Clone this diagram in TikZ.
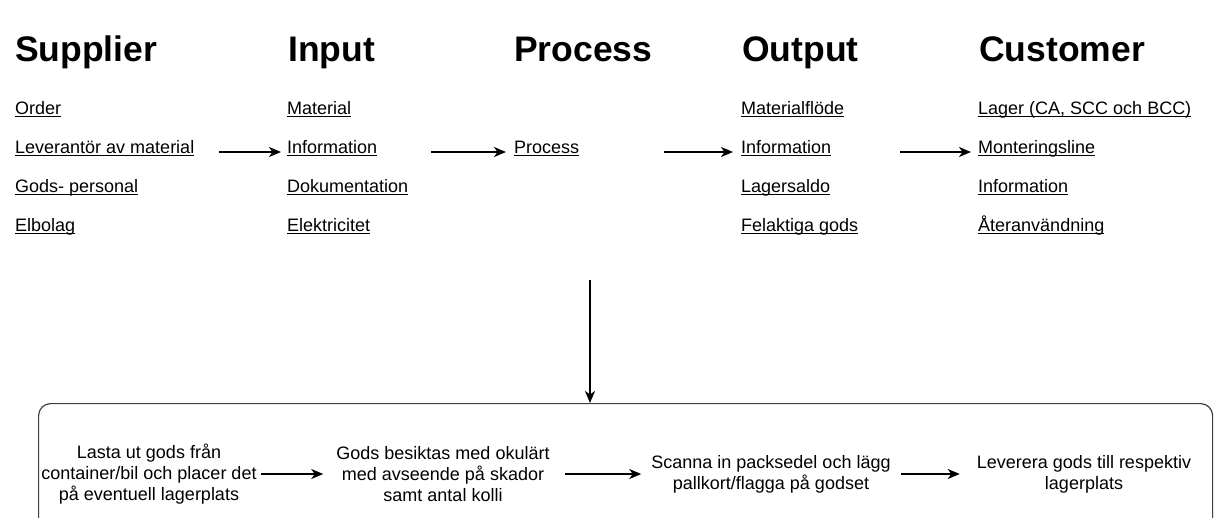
\documentclass[tikz,border=0pt]{standalone}
\usepackage{fontspec}
\setmainfont{Liberation Sans}
\usetikzlibrary{arrows.meta}
\newcommand\myul[1]{\setbox0\hbox{#1}\rlap{\usebox0}\rule[-3.4pt]{\wd0}{1.2pt}}
\tikzset{
  head/.style={inner sep=0pt, anchor=base west, font=\fontsize{35.5}{40}\selectfont\bfseries},
  item/.style={inner sep=0pt, anchor=base west, font=\fontsize{18}{21}\selectfont},
  btxt/.style={inner sep=0pt, align=center, font=\fontsize{18}{21}\selectfont},
  arr/.style={line width=1.8pt, -{Stealth[length=12pt,width=10pt,inset=3.5pt]}},
  barr/.style={line width=1.6pt, -{Stealth[length=12pt,width=10pt,inset=3.5pt]}},
  boxst/.style={draw=black!75, line width=1.2pt, rounded corners=12pt, inner sep=0pt}
}
\begin{document}
\begin{tikzpicture}[x=1pt,y=-1pt]
\useasboundingbox (0,0) rectangle (1215,517);
\clip (0,0) rectangle (1215,517);
% headings
\node[head] (hs) at (15,61) {Supplier};
\node[head] (hi) at (288,61) {Input};
\node[head] (hp) at (514,61) {Process};
\node[head] (ho) at (742,61) {Output};
\node[head] (hc) at (979,61) {Customer};
% supplier
\node[item] (s1) at (15,114) {\myul{Order}};
\node[item] (s2) at (15,153) {\myul{Leverantör av material}};
\node[item] (s3) at (15,192) {\myul{Gods- personal}};
\node[item] (s4) at (15,231) {\myul{Elbolag}};
% input
\node[item] (i1) at (287,114) {\myul{Material}};
\node[item] (i2) at (287,153) {\myul{Information}};
\node[item] (i3) at (287,192) {\myul{Dokumentation}};
\node[item] (i4) at (287,231) {\myul{Elektricitet}};
% process
\node[item] (p) at (514,153) {\myul{Process}};
% output
\node[item] (o1) at (741,114) {\myul{Materialflöde}};
\node[item] (o2) at (741,153) {\myul{Information}};
\node[item] (o3) at (741,192) {\myul{Lagersaldo}};
\node[item] (o4) at (741,231) {\myul{Felaktiga gods}};
% customer
\node[item] (c1) at (978,114) {\myul{Lager (CA, SCC och BCC)}};
\node[item] (c2) at (978,153) {\myul{Monteringsline}};
\node[item] (c3) at (978,192) {\myul{Information}};
\node[item] (c4) at (978,231) {\myul{Återanvändning}};
% top arrows
\draw[arr] ([xshift=25pt,yshift=1pt]s2.base east) -- ([xshift=-6pt,yshift=1pt]i2.base west);
\draw[arr] ([xshift=54pt,yshift=1pt]i2.base east) -- ([xshift=-8pt,yshift=1pt]p.base west);
\draw[arr] ([xshift=85pt,yshift=1pt]p.base east) -- ([xshift=-8pt,yshift=1pt]o2.base west);
\draw[arr] ([xshift=69pt,yshift=1pt]o2.base east) -- ([xshift=-7pt,yshift=1pt]c2.base west);
% bottom box
\node[boxst, anchor=north west, minimum width=1174pt, minimum height=130pt] (box) at (38,403) {};
\coordinate (vtop) at (590,280);
\draw[arr] (vtop) -- (vtop |- box.north);
% bottom texts
\node[btxt] (b1) at (149,474) {Lasta ut gods från\\container/bil och placer det\\på eventuell lagerplats};
\node[btxt] (b2) at (443,474) {Gods besiktas med okulärt\\med avseende på skador\\samt antal kolli};
\node[btxt] (b3) at (771,474) {Scanna in packsedel och lägg\\pallkort/flagga på godset};
\node[btxt] (b4) at (1084,474) {Leverera gods till respektiv\\lagerplats};
\draw[barr] ([xshift=4pt]b1.east) -- ([xshift=-13pt]b2.west);
\draw[barr] ([xshift=15pt]b2.east) -- ([xshift=-10pt]b3.west);
\draw[barr] ([xshift=10pt]b3.east) -- ([xshift=-17pt]b4.west);
\end{tikzpicture}
\end{document}
